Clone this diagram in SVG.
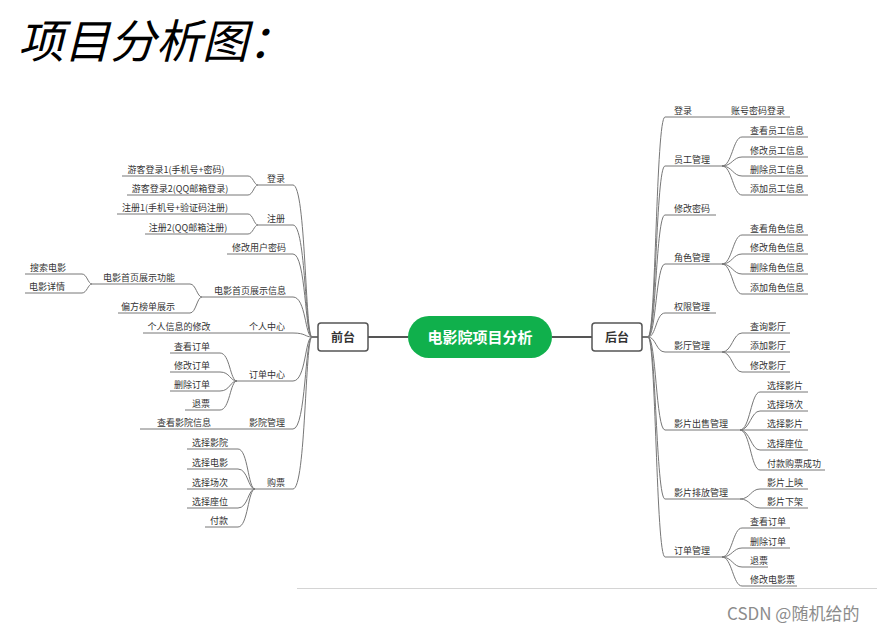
<svg xmlns="http://www.w3.org/2000/svg" width="877" height="633" viewBox="0 0 877 633">
<style>
.t{font-family:"Noto Sans CJK SC","Noto Sans",sans-serif;font-size:9px;fill:#333}
.m{text-anchor:middle}
.u{fill:none;stroke:#777;stroke-width:1}
.c{fill:none;stroke:#777;stroke-width:1}
.box{fill:#fff;stroke:#555;stroke-width:1.5}
.bt{font-family:"Noto Sans CJK SC","Noto Sans",sans-serif;font-size:12px;font-weight:bold;fill:#333;text-anchor:middle}
</style>
<rect width="877" height="633" fill="#fff"/>
<text x="18" y="58" font-family="'Noto Sans CJK SC',sans-serif" font-size="46" font-style="italic" fill="#000">项目分析图：</text>

<g id="connectors">
  <path d="M368,337 H408 M552,337 H592" stroke="#555" stroke-width="2" fill="none"/>
  <!-- left trunk -->
  <path class="c" d="M318,337 H312 C305,337 306,185 293,185"/>
  <path class="c" d="M318,337 H312 C305,337 306,225 293,225"/>
  <path class="c" d="M318,337 H312 C305,337 306,254 293,254"/>
  <path class="c" d="M318,337 H312 C305,337 306,297 293,297"/>
  <path class="c" d="M318,337 H312 C305,337 306,333 293,333"/>
  <path class="c" d="M318,337 H312 C305,337 306,381 293,381"/>
  <path class="c" d="M318,337 H312 C305,337 306,429 293,429"/>
  <path class="c" d="M318,337 H312 C305,337 306,489 293,489"/>
  <!-- left children -->
  <path class="c" d="M248,176 C253,176 254,185 258,185 M248,195 C253,195 254,185 258,185"/>
  <path class="c" d="M248,214 C253,214 254,225 258,225 M248,234 C253,234 254,225 258,225"/>
  <path class="c" d="M190,284 C196,284 197,297 202,297 M190,313 C196,313 197,297 202,297"/>
  <path class="c" d="M82,274 C87,274 88,284 92,284 M82,293 C87,293 88,284 92,284"/>
  <path class="c" d="M220,353 C230,353 230,381 237,381 M220,372 C230,372 230,381 237,381 M220,391 C230,391 230,381 237,381 M220,410 C230,410 230,381 237,381"/>
  <path class="c" d="M238,449 C248,449 248,489 255,489 M238,469 C248,469 248,489 255,489 M238,508 C248,508 248,489 255,489 M238,527 C248,527 248,489 255,489"/>
  <!-- right trunk -->
  <path class="c" d="M642,337 H648 C656,337 656,117 665,117"/>
  <path class="c" d="M642,337 H648 C656,337 656,166 665,166"/>
  <path class="c" d="M642,337 H648 C656,337 656,215 665,215"/>
  <path class="c" d="M642,337 H648 C656,337 656,264 665,264"/>
  <path class="c" d="M642,337 H648 C656,337 656,313 665,313"/>
  <path class="c" d="M642,337 H648 C656,337 656,352 665,352"/>
  <path class="c" d="M642,337 H648 C656,337 656,430 665,430"/>
  <path class="c" d="M642,337 H648 C656,337 656,499 665,499"/>
  <path class="c" d="M642,337 H648 C656,337 656,557 665,557"/>
  <!-- right children -->
  <path class="c" d="M722,166 C732,166 733,137 742,137 M722,166 C732,166 733,157 742,157 M722,166 C732,166 733,176 742,176 M722,166 C732,166 733,195 742,195"/>
  <path class="c" d="M722,264 C732,264 733,235 742,235 M722,264 C732,264 733,254 742,254 M722,264 C732,264 733,274 742,274 M722,264 C732,264 733,294 742,294"/>
  <path class="c" d="M722,352 C732,352 733,333 742,333 M722,352 H742 M722,352 C732,352 733,372 742,372"/>
  <path class="c" d="M740,430 C750,430 751,392 760,392 M740,430 C750,430 751,411 760,411 M740,430 H760 M740,430 C750,430 751,450 760,450 M740,430 C750,430 751,470 760,470"/>
  <path class="c" d="M740,499 C750,499 751,489 760,489 M740,499 C750,499 751,508 760,508"/>
  <path class="c" d="M722,557 C732,557 733,528 742,528 M722,557 C732,557 733,548 742,548 M722,557 C732,557 733,567 742,567 M722,557 C732,557 733,586 742,586"/>
</g>

<g id="center">
  <rect x="408" y="316" width="144" height="42" rx="21" fill="#10B04C"/>
  <text x="480" y="342.5" font-family="'Noto Sans CJK SC',sans-serif" font-size="15" font-weight="bold" fill="#fff" text-anchor="middle">电影院项目分析</text>
</g>
<g id="qiantai">
  <rect class="box" x="318" y="323" width="50" height="28" rx="3"/>
  <text class="bt" x="343" y="341.5">前台</text>
</g>
<g id="houtai">
  <rect class="box" x="592" y="323" width="50" height="28" rx="3"/>
  <text class="bt" x="617" y="341.5">后台</text>
</g>

<!-- left nodes -->
<g id="l-denglu"><path class="u" d="M258,185 H293"/><text class="t m" x="276" y="181.5">登录</text></g>
<g id="l-youke1"><path class="u" d="M122,176 H248"/><text class="t m" x="176" y="172.5">游客登录1(手机号+密码)</text></g>
<g id="l-youke2"><path class="u" d="M127,195 H248"/><text class="t m" x="180" y="191.5">游客登录2(QQ邮箱登录)</text></g>
<g id="l-zhuce"><path class="u" d="M258,225 H293"/><text class="t m" x="276" y="221.5">注册</text></g>
<g id="l-zhuce1"><path class="u" d="M117,214 H248"/><text class="t m" x="175" y="210.5">注册1(手机号+验证码注册)</text></g>
<g id="l-zhuce2"><path class="u" d="M145,234 H248"/><text class="t m" x="188" y="230.5">注册2(QQ邮箱注册)</text></g>
<g id="l-xiugaimima"><path class="u" d="M227,254 H293"/><text class="t m" x="259" y="250.5">修改用户密码</text></g>
<g id="l-shouye"><path class="u" d="M202,297 H293"/><text class="t m" x="250" y="293.5">电影首页展示信息</text></g>
<g id="l-shouyegn"><path class="u" d="M92,284 H190"/><text class="t m" x="139" y="280.5">电影首页展示功能</text></g>
<g id="l-sousuo"><path class="u" d="M25,274 H82"/><text class="t m" x="48" y="270.5">搜索电影</text></g>
<g id="l-xiangqing"><path class="u" d="M25,293 H82"/><text class="t m" x="47" y="289.5">电影详情</text></g>
<g id="l-bangdan"><path class="u" d="M118,313 H190"/><text class="t m" x="148" y="309.5">偏方榜单展示</text></g>
<g id="l-geren"><path class="u" d="M143,333 H293"/><text class="t m" x="267" y="329.5">个人中心</text></g>
<g id="l-gerenxg"><text class="t m" x="179" y="329.5">个人信息的修改</text></g>
<g id="l-dingdan"><path class="u" d="M237,381 H293"/><text class="t m" x="267" y="377.5">订单中心</text></g>
<g id="l-chakan"><path class="u" d="M170,353 H220"/><text class="t m" x="192" y="349.5">查看订单</text></g>
<g id="l-xiugai"><path class="u" d="M170,372 H220"/><text class="t m" x="192" y="368.5">修改订单</text></g>
<g id="l-shanchu"><path class="u" d="M170,391 H220"/><text class="t m" x="192" y="387.5">删除订单</text></g>
<g id="l-tuipiao"><path class="u" d="M185,410 H220"/><text class="t m" x="201" y="406.5">退票</text></g>
<g id="l-yingyuan"><path class="u" d="M140,429 H293"/><text class="t m" x="267" y="425.5">影院管理</text></g>
<g id="l-yingyuanxx"><text class="t m" x="184" y="425.5">查看影院信息</text></g>
<g id="l-goupiao"><path class="u" d="M255,489 H293"/><text class="t m" x="276" y="485.5">购票</text></g>
<g id="l-xzyy"><path class="u" d="M187,449 H238"/><text class="t m" x="210" y="445.5">选择影院</text></g>
<g id="l-xzdy"><path class="u" d="M187,469 H238"/><text class="t m" x="210" y="465.5">选择电影</text></g>
<g id="l-xzcc"><path class="u" d="M187,489 H255"/><text class="t m" x="210" y="485.5">选择场次</text></g>
<g id="l-xzzw"><path class="u" d="M187,508 H238"/><text class="t m" x="210" y="504.5">选择座位</text></g>
<g id="l-fukuan"><path class="u" d="M205,527 H238"/><text class="t m" x="219" y="523.5">付款</text></g>

<!-- right nodes -->
<g id="r-denglu"><path class="u" d="M665,117 H790"/><text class="t" x="674" y="113.5">登录</text></g>
<g id="r-zhanghao"><text class="t" x="731" y="113.5">账号密码登录</text></g>
<g id="r-yuangong"><path class="u" d="M665,166 H722"/><text class="t" x="674" y="162.5">员工管理</text></g>
<g id="r-yg1"><path class="u" d="M742,137 H808"/><text class="t" x="750" y="133.5">查看员工信息</text></g>
<g id="r-yg2"><path class="u" d="M742,157 H808"/><text class="t" x="750" y="153.5">修改员工信息</text></g>
<g id="r-yg3"><path class="u" d="M742,176 H808"/><text class="t" x="750" y="172.5">删除员工信息</text></g>
<g id="r-yg4"><path class="u" d="M742,195 H808"/><text class="t" x="750" y="191.5">添加员工信息</text></g>
<g id="r-mima"><path class="u" d="M665,215 H716"/><text class="t" x="674" y="211.5">修改密码</text></g>
<g id="r-juese"><path class="u" d="M665,264 H722"/><text class="t" x="674" y="260.5">角色管理</text></g>
<g id="r-js1"><path class="u" d="M742,235 H808"/><text class="t" x="750" y="231.5">查看角色信息</text></g>
<g id="r-js2"><path class="u" d="M742,254 H808"/><text class="t" x="750" y="250.5">修改角色信息</text></g>
<g id="r-js3"><path class="u" d="M742,274 H808"/><text class="t" x="750" y="270.5">删除角色信息</text></g>
<g id="r-js4"><path class="u" d="M742,294 H808"/><text class="t" x="750" y="290.5">添加角色信息</text></g>
<g id="r-quanxian"><path class="u" d="M665,313 H716"/><text class="t" x="674" y="309.5">权限管理</text></g>
<g id="r-yingting"><path class="u" d="M665,352 H722"/><text class="t" x="674" y="348.5">影厅管理</text></g>
<g id="r-yt1"><path class="u" d="M742,333 H790"/><text class="t" x="750" y="329.5">查询影厅</text></g>
<g id="r-yt2"><path class="u" d="M742,352 H790"/><text class="t" x="750" y="348.5">添加影厅</text></g>
<g id="r-yt3"><path class="u" d="M742,372 H790"/><text class="t" x="750" y="368.5">修改影厅</text></g>
<g id="r-chushou"><path class="u" d="M665,430 H740"/><text class="t" x="674" y="426.5">影片出售管理</text></g>
<g id="r-cs1"><path class="u" d="M760,392 H808"/><text class="t" x="767" y="388.5">选择影片</text></g>
<g id="r-cs2"><path class="u" d="M760,411 H808"/><text class="t" x="767" y="407.5">选择场次</text></g>
<g id="r-cs3"><path class="u" d="M760,430 H808"/><text class="t" x="767" y="426.5">选择影片</text></g>
<g id="r-cs4"><path class="u" d="M760,450 H808"/><text class="t" x="767" y="446.5">选择座位</text></g>
<g id="r-cs5"><path class="u" d="M760,470 H825"/><text class="t" x="767" y="466.5">付款购票成功</text></g>
<g id="r-paifang"><path class="u" d="M665,499 H740"/><text class="t" x="674" y="495.5">影片排放管理</text></g>
<g id="r-pf1"><path class="u" d="M760,489 H808"/><text class="t" x="767" y="485.5">影片上映</text></g>
<g id="r-pf2"><path class="u" d="M760,508 H808"/><text class="t" x="767" y="504.5">影片下架</text></g>
<g id="r-dingdan"><path class="u" d="M665,557 H722"/><text class="t" x="674" y="553.5">订单管理</text></g>
<g id="r-dd1"><path class="u" d="M742,528 H790"/><text class="t" x="750" y="524.5">查看订单</text></g>
<g id="r-dd2"><path class="u" d="M742,548 H790"/><text class="t" x="750" y="544.5">删除订单</text></g>
<g id="r-dd3"><path class="u" d="M742,567 H768"/><text class="t" x="750" y="563.5">退票</text></g>
<g id="r-dd4"><path class="u" d="M742,586 H797"/><text class="t" x="750" y="582.5">修改电影票</text></g>

<line x1="297" y1="588.5" x2="877" y2="588.5" stroke="#d4d4d4" stroke-width="1"/>
<text x="727" y="620" font-family="'Noto Sans CJK SC',sans-serif" font-size="17" fill="#8c8c8c">CSDN @随机给的</text>
</svg>
